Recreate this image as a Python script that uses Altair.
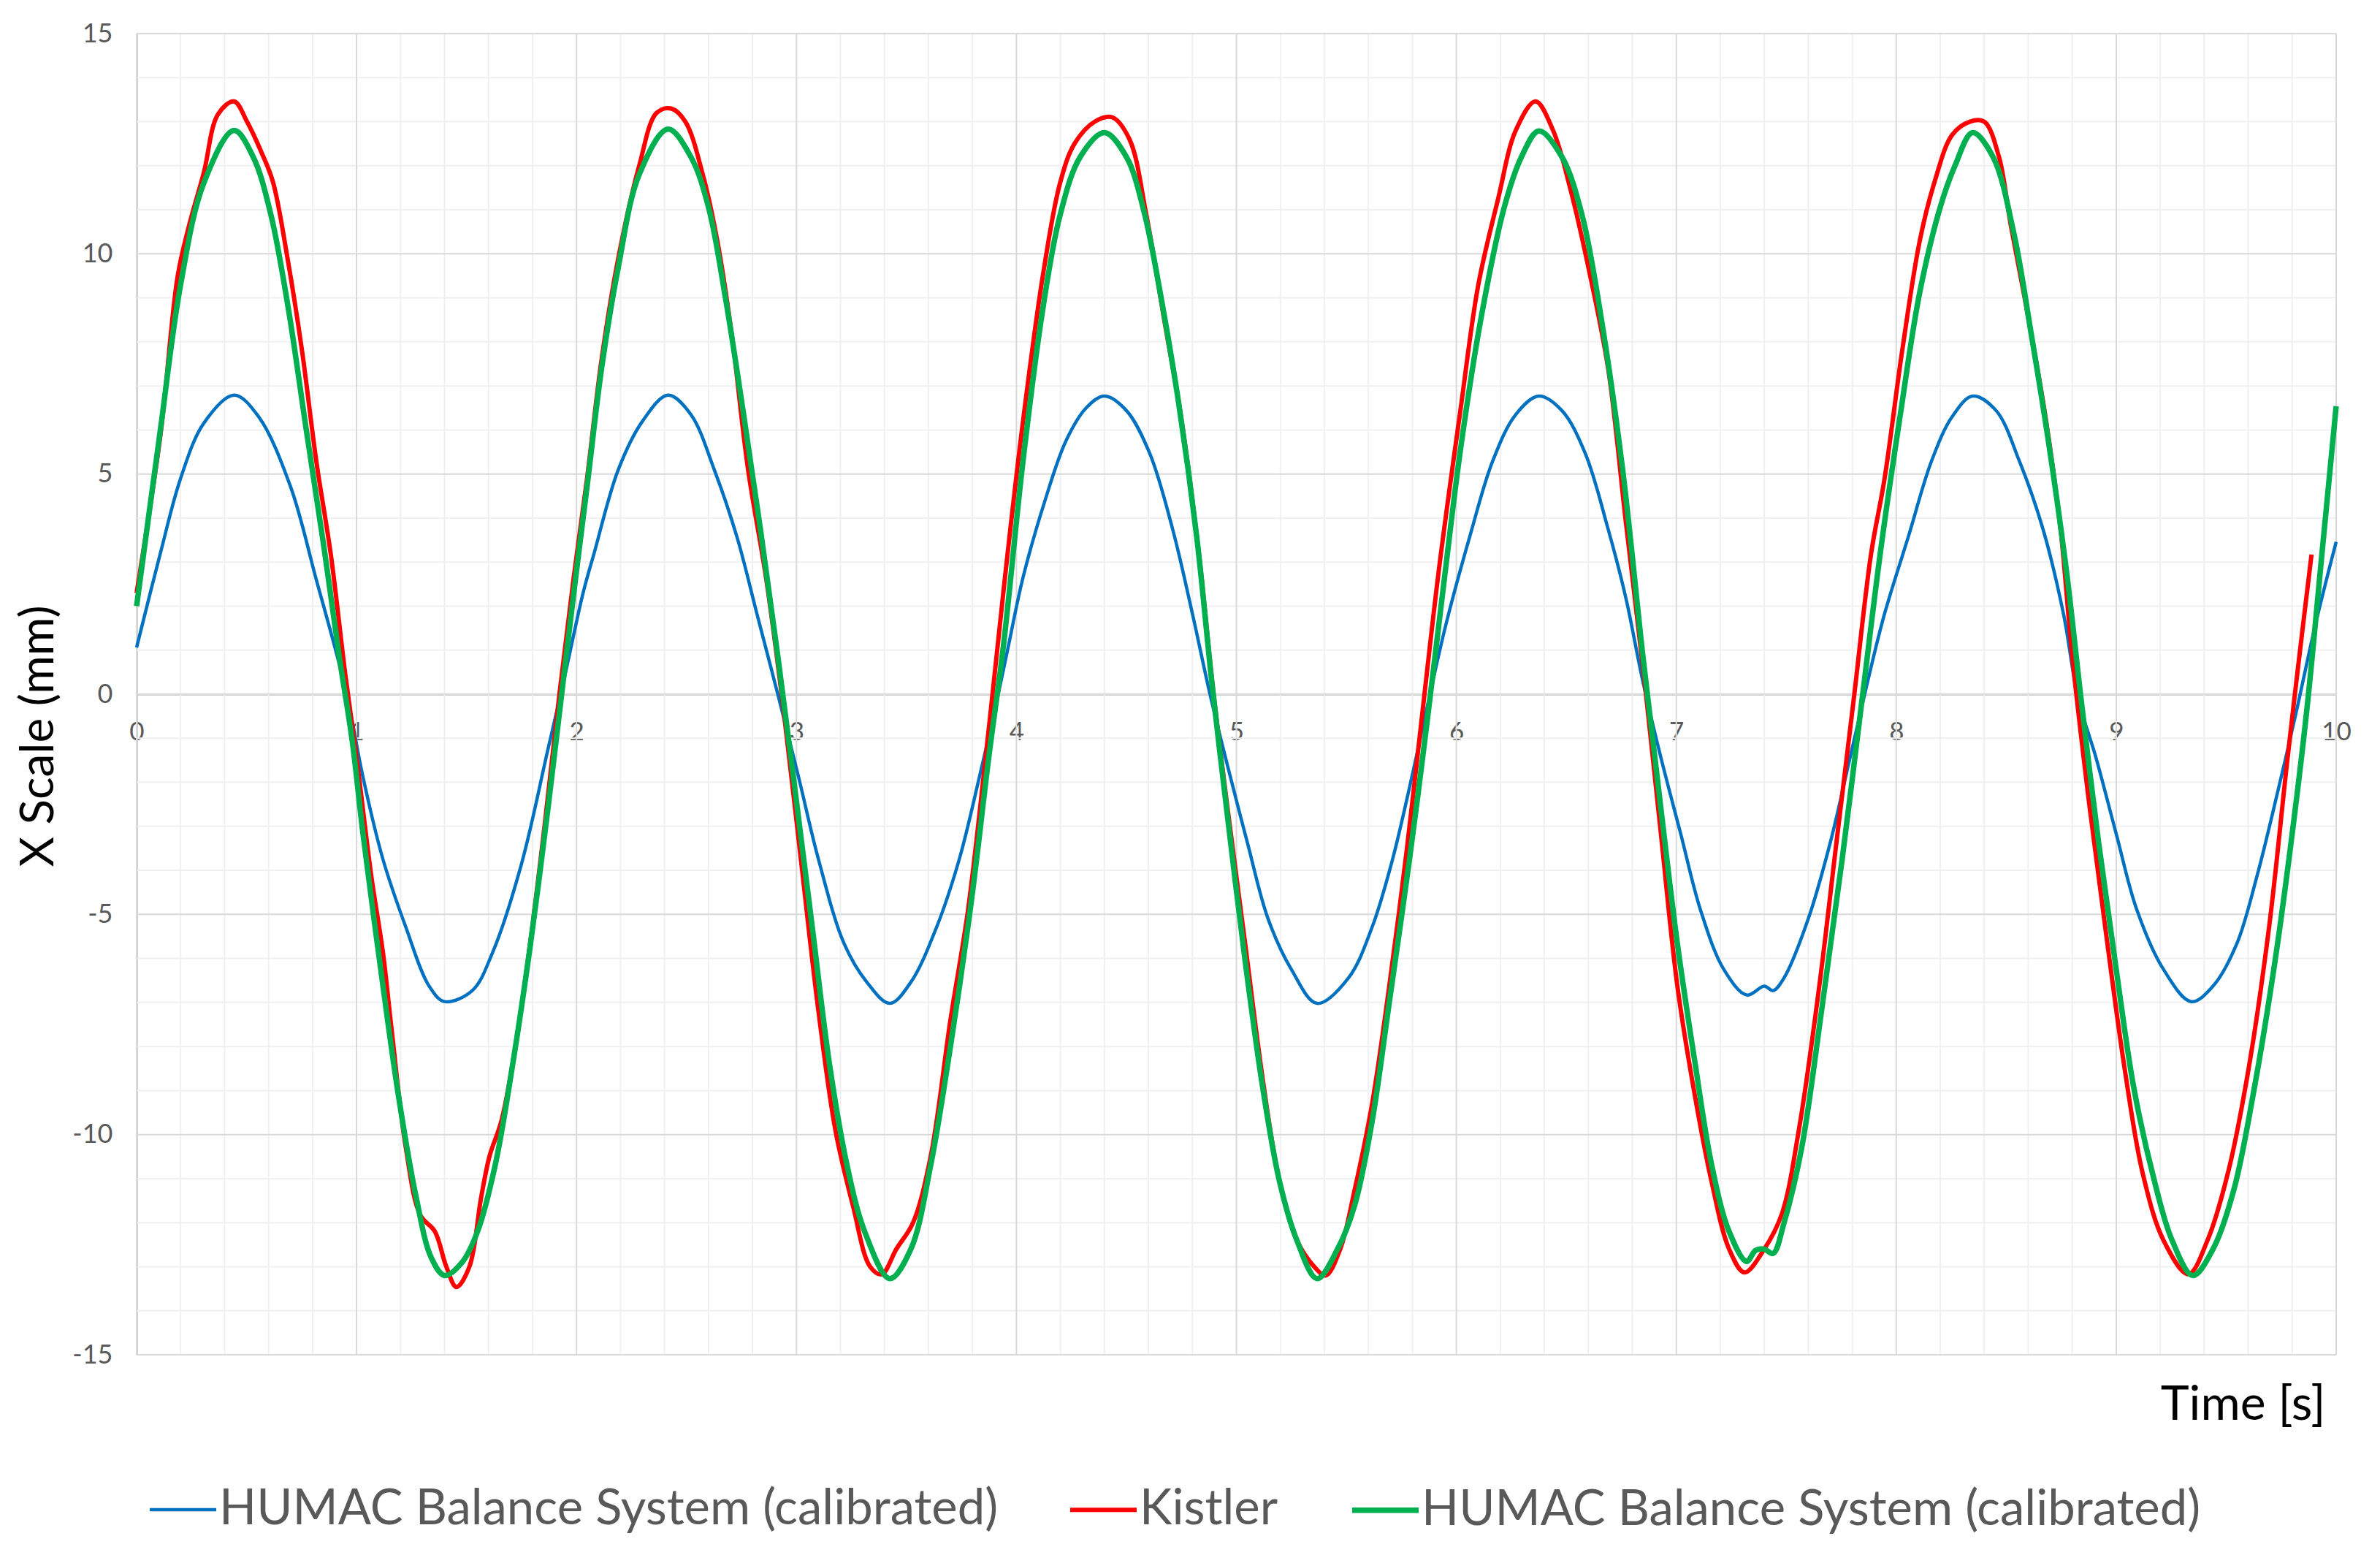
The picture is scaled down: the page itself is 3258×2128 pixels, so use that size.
import altair as alt
import pandas as pd

# ---- data ----
blue_t = [0.0, 0.108, 0.2, 0.305, 0.443, 0.555, 0.7, 0.817, 0.922, 0.975, 1.027, 1.12, 1.224, 1.33, 1.40, 1.526,
          1.618, 1.75, 1.868, 1.946, 2.03, 2.08, 2.19, 2.30, 2.416, 2.52, 2.626, 2.73, 2.82, 2.915, 3.007, 3.10,
          3.217, 3.32, 3.424, 3.52, 3.637, 3.74, 3.834, 3.913, 3.962, 4.03, 4.13, 4.225, 4.317, 4.40, 4.50, 4.605,
          4.71, 4.80, 4.88, 4.96, 5.05, 5.144, 5.25, 5.367, 5.51, 5.617, 5.71, 5.80, 5.88, 5.955, 6.06, 6.165,
          6.27, 6.375, 6.48, 6.585, 6.69, 6.77, 6.848, 6.93, 7.02, 7.11, 7.216, 7.32, 7.40, 7.44, 7.49, 7.60,
          7.70, 7.79, 7.87, 7.947, 8.054, 8.16, 8.254, 8.347, 8.454, 8.56, 8.667, 8.76, 8.827, 8.908, 9.0, 9.094,
          9.215, 9.341, 9.44, 9.548, 9.64, 9.735, 9.815, 9.908, 10.0]
blue_v = [1.06, 3.2, 4.9, 6.15, 6.79, 6.3, 4.71, 2.6, 0.67, -0.48, -1.83, -3.75, -5.29, -6.63, -6.98, -6.73,
          -5.87, -3.85, -1.3, 0.4, 2.3, 3.2, 5.1, 6.2, 6.79, 6.35, 5.1, 3.56, 1.83, 0.0, -1.83, -3.75,
          -5.67, -6.54, -7.02, -6.54, -5.29, -3.75, -1.83, -0.1, 1.06, 2.65, 4.4, 5.75, 6.5, 6.77, 6.44, 5.48,
          3.75, 1.83, 0.0, -1.63, -3.37, -5.1, -6.25, -7.02, -6.44, -5.29, -3.75, -1.83, 0.0, 1.63, 3.56, 5.29,
          6.35, 6.77, 6.44, 5.48, 3.75, 2.2, 0.29, -1.44, -3.17, -4.9, -6.25, -6.83, -6.63, -6.73, -6.44, -5.1,
          -3.37, -1.44, 0.29, 1.83, 3.56, 5.29, 6.3, 6.77, 6.44, 5.29, 3.75, 1.83, -0.1, -1.44, -3.17, -4.9,
          -6.25, -6.98, -6.63, -5.67, -4.13, -2.2, -0.48, 1.63, 3.46]

red_t = [0.0, 0.108, 0.187, 0.24, 0.305, 0.37, 0.443, 0.502, 0.568, 0.62, 0.686, 0.752, 0.817, 0.883, 0.948, 1.0,
         1.067, 1.12, 1.159, 1.224, 1.29, 1.356, 1.408, 1.454, 1.513, 1.566, 1.605, 1.658, 1.723, 1.789, 1.855,
         1.92, 1.986, 2.048, 2.114, 2.19, 2.285, 2.364, 2.43, 2.495, 2.574, 2.64, 2.705, 2.78, 2.863, 2.94, 3.02,
         3.10, 3.177, 3.256, 3.335, 3.388, 3.454, 3.53, 3.61, 3.70, 3.78, 3.86, 3.926, 3.96, 4.03, 4.12, 4.198,
         4.264, 4.356, 4.435, 4.514, 4.59, 4.67, 4.75, 4.83, 4.894, 4.96, 5.04, 5.12, 5.196, 5.275, 5.354, 5.406,
         5.472, 5.538, 5.617, 5.695, 5.774, 5.84, 5.92, 6.02, 6.10, 6.19, 6.27, 6.36, 6.44, 6.52, 6.60, 6.69,
         6.77, 6.86, 6.93, 7.005, 7.085, 7.16, 7.24, 7.31, 7.40, 7.48, 7.557, 7.65, 7.728, 7.807, 7.885, 7.947,
         8.027, 8.107, 8.174, 8.254, 8.334, 8.40, 8.467, 8.52, 8.6, 8.68, 8.747, 8.80, 8.88, 8.96, 9.04, 9.12,
         9.215, 9.328, 9.415, 9.508, 9.60, 9.695, 9.775, 9.828, 9.888]
red_v = [2.3, 5.87, 9.5, 10.67, 11.83, 13.17, 13.46, 13.0, 12.3, 11.63, 9.9, 7.8, 5.29, 3.17, 0.48, -1.44,
         -4.13, -5.87, -7.6, -10.3, -11.83, -12.2, -13.0, -13.46, -13.0, -11.44, -10.48, -9.7, -7.98, -5.67, -2.98,
         -0.1, 2.6, 4.9, 7.6, 9.9, 12.0, 13.2, 13.3, 13.0, 11.8, 10.3, 8.2, 5.1, 2.6, -0.3, -3.75,
         -7.2, -9.9, -11.6, -13.0, -13.17, -12.6, -12.0, -10.5, -7.4, -4.9, -1.44, 1.63, 3.2, 6.2, 9.5, 11.6,
         12.5, 13.0, 13.1, 12.6, 10.9, 8.56, 6.25, 3.17, 0.1, -2.6, -5.67, -8.75, -11.06, -12.4, -13.0, -13.2,
         -12.6, -11.25, -9.3, -6.63, -3.56, -0.67, 2.8, 6.5, 9.3, 11.25, 12.8, 13.46, 12.8, 11.44, 9.7, 7.4,
         3.94, 0.1, -3.17, -6.63, -9.13, -11.06, -12.6, -13.13, -12.6, -11.8, -9.9, -6.63, -3.37, -0.1, 3.17, 4.9,
         7.8, 10.3, 11.63, 12.7, 13.0, 13.0, 12.2, 10.67, 8.56, 6.25, 3.75, 0.87, -2.6, -5.67, -8.56, -10.87,
         -12.4, -13.17, -12.4, -10.87, -8.56, -5.29, -1.63, 0.67, 3.17]

green_t = [0.0, 0.108, 0.2, 0.305, 0.443, 0.53, 0.61, 0.69, 0.77, 0.85, 0.92, 0.98, 1.03, 1.11, 1.19, 1.27,
           1.34, 1.40, 1.48, 1.55, 1.63, 1.71, 1.79, 1.87, 1.93, 1.99, 2.05, 2.114, 2.19, 2.285, 2.416, 2.52,
           2.60, 2.679, 2.757, 2.836, 2.915, 2.994, 3.072, 3.15, 3.23, 3.31, 3.424, 3.52, 3.61, 3.70, 3.795, 3.874,
           3.94, 4.03, 4.12, 4.198, 4.29, 4.40, 4.50, 4.58, 4.66, 4.737, 4.82, 4.888, 4.96, 5.04, 5.12, 5.196,
           5.275, 5.367, 5.46, 5.538, 5.617, 5.695, 5.787, 5.866, 5.945, 6.02, 6.113, 6.218, 6.296, 6.375, 6.48,
           6.572, 6.664, 6.756, 6.848, 6.93, 7.005, 7.085, 7.16, 7.24, 7.32, 7.36, 7.40, 7.44, 7.49, 7.57, 7.66,
           7.754, 7.845, 7.93, 8.02, 8.107, 8.2, 8.267, 8.347, 8.44, 8.534, 8.614, 8.694, 8.774, 8.84, 8.92, 9.0,
           9.08, 9.174, 9.254, 9.348, 9.44, 9.535, 9.628, 9.722, 9.8, 9.868, 9.935, 10.0]
green_v = [2.0, 6.0, 9.3, 11.6, 12.8, 12.2, 10.9, 8.75, 6.05, 3.4, 0.9, -1.05, -3.2, -6.25, -9.1, -11.4,
           -12.8, -13.2, -12.9, -12.2, -10.7, -8.4, -5.7, -2.6, -0.1, 2.4, 4.8, 7.4, 9.7, 11.8, 12.83, 12.2,
           11.06, 8.94, 6.44, 3.75, 0.87, -2.2, -5.3, -8.4, -10.7, -12.2, -13.27, -12.6, -10.7, -8.0, -4.7, -1.44,
           1.06, 5.3, 8.75, 10.87, 12.2, 12.75, 12.2, 10.96, 8.94, 6.63, 3.56, 0.29, -2.79, -6.06, -8.94, -11.06,
           -12.4, -13.27, -12.6, -11.6, -9.7, -7.0, -3.75, -0.67, 2.6, 5.6, 8.56, 11.06, 12.2, 12.79, 12.2,
           10.87, 8.37, 5.1, 0.87, -2.6, -5.67, -8.37, -10.67, -12.2, -12.88, -12.63, -12.6, -12.7, -12.0, -10.3, -7.2,
           -3.75, -0.1, 3.3, 6.4, 9.13, 11.06, 12.0, 12.75, 12.2, 10.48, 8.17, 5.67, 2.79, -0.1, -3.37, -6.25,
           -8.94, -11.06, -12.4, -13.2, -12.6, -11.25, -8.94, -6.06, -3.17, -0.29, 3.17, 6.54]

series_keys = ["a_humac", "b_kistler", "c_humac"]
series_colors = ["#0070C0", "#FF0000", "#00B050"]
series_widths = [4.5, 7.5, 4.5]

x_ticks = [0, 1, 2, 3, 4, 5, 6, 7, 8, 9, 10]
y_ticks = [-15, -10, -5, 0, 5, 10, 15]
x_minor = [i / 5 for i in range(0, 51) if i % 5 != 0]
y_minor = [i for i in range(-15, 16) if i % 5 != 0]

rows = []
for key, ts, vs in zip(series_keys, [blue_t, red_t, green_t], [blue_v, red_v, green_v]):
    for t, v in zip(ts, vs):
        rows.append({"t": t, "v": v, "series": key})
df = pd.DataFrame(rows)

W, H = 3011, 1808
FONT = "Lato"
xs = alt.Scale(domain=[0, 10], nice=False, zero=False)
ys = alt.Scale(domain=[-15, 15], nice=False, zero=False)

x_axis = alt.Axis(
    values=x_ticks, title="Time [s]", offset=-H / 2, ticks=False, grid=False,
    domainColor="#BFBFBF", domainWidth=2.5,
    labelFont=FONT, labelFontSize=35, labelColor="#595959", labelPadding=34,
    labelFlush=False, labelOverlap=False, labelExpr="'' + datum.value",
    titleFont=FONT, titleFontSize=66, titleFontWeight="normal", titleColor="#000000",
    titleX=2996, titleY=972, titleAlign="right", titleBaseline="middle")
y_axis = alt.Axis(
    values=y_ticks, title="X Scale (mm)", ticks=False, grid=False,
    domainColor="#BFBFBF", domainWidth=2.5,
    labelFont=FONT, labelFontSize=36, labelColor="#595959", labelPadding=33,
    labelFlush=False, labelOverlap=False, labelExpr="'' + datum.value",
    titleFont=FONT, titleFontSize=64, titleFontWeight="normal", titleColor="#000000",
    titleX=-134, titleY=961, titleAngle=270, titleAlign="center", titleBaseline="middle")

minor_x_rules = alt.Chart(pd.DataFrame({"t": x_minor})).mark_rule(color="#F0F0F0", strokeWidth=2).encode(
    x=alt.X("t:Q", scale=xs, axis=x_axis))
minor_y_rules = alt.Chart(pd.DataFrame({"v": y_minor})).mark_rule(color="#F0F0F0", strokeWidth=2).encode(
    y=alt.Y("v:Q", scale=ys, axis=y_axis))
major_x_rules = alt.Chart(pd.DataFrame({"t": x_ticks})).mark_rule(color="#D9D9D9", strokeWidth=2).encode(
    x=alt.X("t:Q", scale=xs, axis=x_axis))
major_y_rules = alt.Chart(pd.DataFrame({"v": y_ticks})).mark_rule(color="#D9D9D9", strokeWidth=2).encode(
    y=alt.Y("v:Q", scale=ys, axis=y_axis))

lines = alt.Chart(df).mark_line(interpolate="catmull-rom", strokeJoin="round").encode(
    x=alt.X("t:Q", scale=xs, axis=x_axis),
    y=alt.Y("v:Q", scale=ys, axis=y_axis),
    color=alt.Color("series:N", scale=alt.Scale(domain=series_keys, range=series_colors), legend=alt.Legend(
        title=None, orient="none", legendX=14, legendY=1971, direction="horizontal", columns=3,
        symbolType="stroke", symbolSize=8281, symbolStrokeWidth=6, columnPadding=86, labelOffset=0,
        labelFont=FONT, labelFontSize=67, labelColor="#595959", labelLimit=3000,
        labelExpr="datum.value == 'b_kistler' ? 'Kistler' : 'HUMAC Balance System (calibrated)'")),
    strokeWidth=alt.StrokeWidth("series:N", scale=alt.Scale(domain=series_keys, range=series_widths), legend=None),
)

chart = alt.layer(minor_x_rules, minor_y_rules, major_x_rules, major_y_rules, lines).properties(
    width=W, height=H,
    autosize=alt.AutoSizeParams(type="none"),
    padding={"left": 179, "top": 38, "right": 52, "bottom": 266},
    background="white",
).configure_view(stroke=None)

chart.save("out.html", embed_options={"renderer": "svg", "actions": False})
